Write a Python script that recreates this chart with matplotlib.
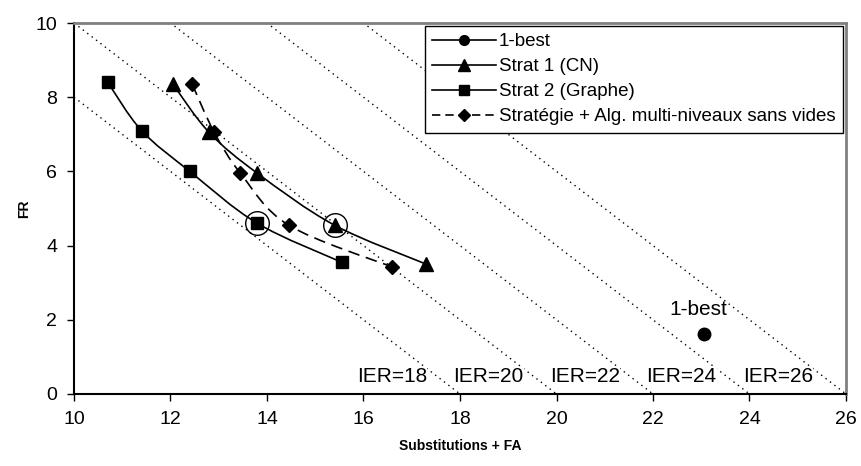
import matplotlib
matplotlib.use("Agg")
import matplotlib.pyplot as plt
from matplotlib.path import Path
from matplotlib.patches import PathPatch
from matplotlib.lines import Line2D

plt.rcParams['font.family'] = ['Liberation Sans', 'DejaVu Sans']

# data
best_x = [23.05]
best_y = [1.62]
strat1_x = [12.05, 12.8, 13.8, 15.4, 17.3]
strat1_y = [8.35, 7.05, 5.95, 4.55, 3.5]
strat2_x = [10.7, 11.4, 12.4, 13.8, 15.55]
strat2_y = [8.4, 7.1, 6.0, 4.6, 3.55]
multi_x = [12.45, 12.9, 13.45, 14.45, 16.6]
multi_y = [8.35, 7.07, 5.95, 4.55, 3.42]
circled_x = [13.8, 15.4]
circled_y = [4.6, 4.55]
ier_levels = [18, 20, 22, 24, 26]
labels = ['1-best', 'Strat 1 (CN)', 'Strat 2 (Graphe)',
          'Stratégie + Alg. multi-niveaux sans vides']


def smooth_path(xs, ys):
    # excel-like smoothed line: catmull-rom turned into cubic bezier segments
    pts = list(zip(xs, ys))
    verts = [pts[0]]
    codes = [Path.MOVETO]
    n = len(pts)
    for i in range(n - 1):
        p0 = pts[i - 1] if i > 0 else pts[i]
        p1 = pts[i]
        p2 = pts[i + 1]
        p3 = pts[i + 2] if i + 2 < n else pts[i + 1]
        c1 = (p1[0] + (p2[0] - p0[0]) / 6, p1[1] + (p2[1] - p0[1]) / 6)
        c2 = (p2[0] - (p3[0] - p1[0]) / 6, p2[1] - (p3[1] - p1[1]) / 6)
        verts += [c1, c2, p2]
        codes += [Path.CURVE4] * 3
    return Path(verts, codes)


fig = plt.figure(figsize=(8.62, 4.66), dpi=100)
ax = fig.add_axes([74 / 862, 1 - 394 / 466, 772 / 862, 371 / 466])

# iso-IER lines: x + y = IER
for ier in ier_levels:
    ax.plot([10, 26], [ier - 10, ier - 26], color='black', ls=(0, (1, 3)),
            lw=1, zorder=1)
    ax.text(ier - 2.14, 0.47, 'IER=%d' % ier, ha='left', va='center',
            fontsize=15, zorder=3,
            bbox=dict(facecolor='white', edgecolor='none', pad=0.3))

ax.add_patch(PathPatch(smooth_path(strat1_x, strat1_y), fill=False,
                       lw=1.2, color='black', zorder=2))
ax.add_patch(PathPatch(smooth_path(strat2_x, strat2_y), fill=False,
                       lw=1.2, color='black', zorder=2))
ax.add_patch(PathPatch(smooth_path(multi_x, multi_y), fill=False,
                       lw=1.2, color='black', ls=(0, (7, 4)), zorder=2))

ax.plot(best_x, best_y, 'o', color='black', ms=9, zorder=4)
ax.plot(strat1_x, strat1_y, '^', color='black', ms=10, zorder=4)
ax.plot(strat2_x, strat2_y, 's', color='black', ms=9, zorder=4)
ax.plot(multi_x, multi_y, 'D', color='black', ms=7.5, zorder=4)
ax.plot(circled_x, circled_y, 'o', mfc='none', mec='black', mew=1,
        ms=17, zorder=5)
ax.text(best_x[0] - 0.12, best_y[0] + 0.4, '1-best', ha='center',
        va='bottom', fontsize=15)

ax.set_xlim(10, 26)
ax.set_ylim(0, 10)
ax.set_xticks(range(10, 27, 2))
ax.set_yticks(range(0, 11, 2))
ax.tick_params(labelsize=14, length=5, width=1, pad=7)
ax.set_xlabel('Substitutions + FA', fontsize=10, fontweight='bold', labelpad=8)
ax.set_ylabel('FR', fontsize=10, fontweight='bold', labelpad=3)

for side in ['top', 'right']:
    ax.spines[side].set_color('#808080')
    ax.spines[side].set_linewidth(2)
for side in ['left', 'bottom']:
    ax.spines[side].set_linewidth(1.5)

handles = [
    Line2D([], [], color='black', lw=1.2, marker='o', ms=7),
    Line2D([], [], color='black', lw=1.2, marker='^', ms=8),
    Line2D([], [], color='black', lw=1.2, marker='s', ms=7),
    Line2D([], [], color='black', lw=1.2, marker='D', ms=6, ls=(0, (5, 3))),
]
leg = ax.legend(handles, labels, loc='upper right', bbox_to_anchor=(1.0, 1.0),
                borderaxespad=0.15, fontsize=13.5, handlelength=3.4,
                handletextpad=0.15, labelspacing=0.42, fancybox=False,
                framealpha=1, edgecolor='black', borderpad=0.4)
leg.get_frame().set_linewidth(1)
leg.set_zorder(6)

fig.savefig('out.png', dpi=100)
